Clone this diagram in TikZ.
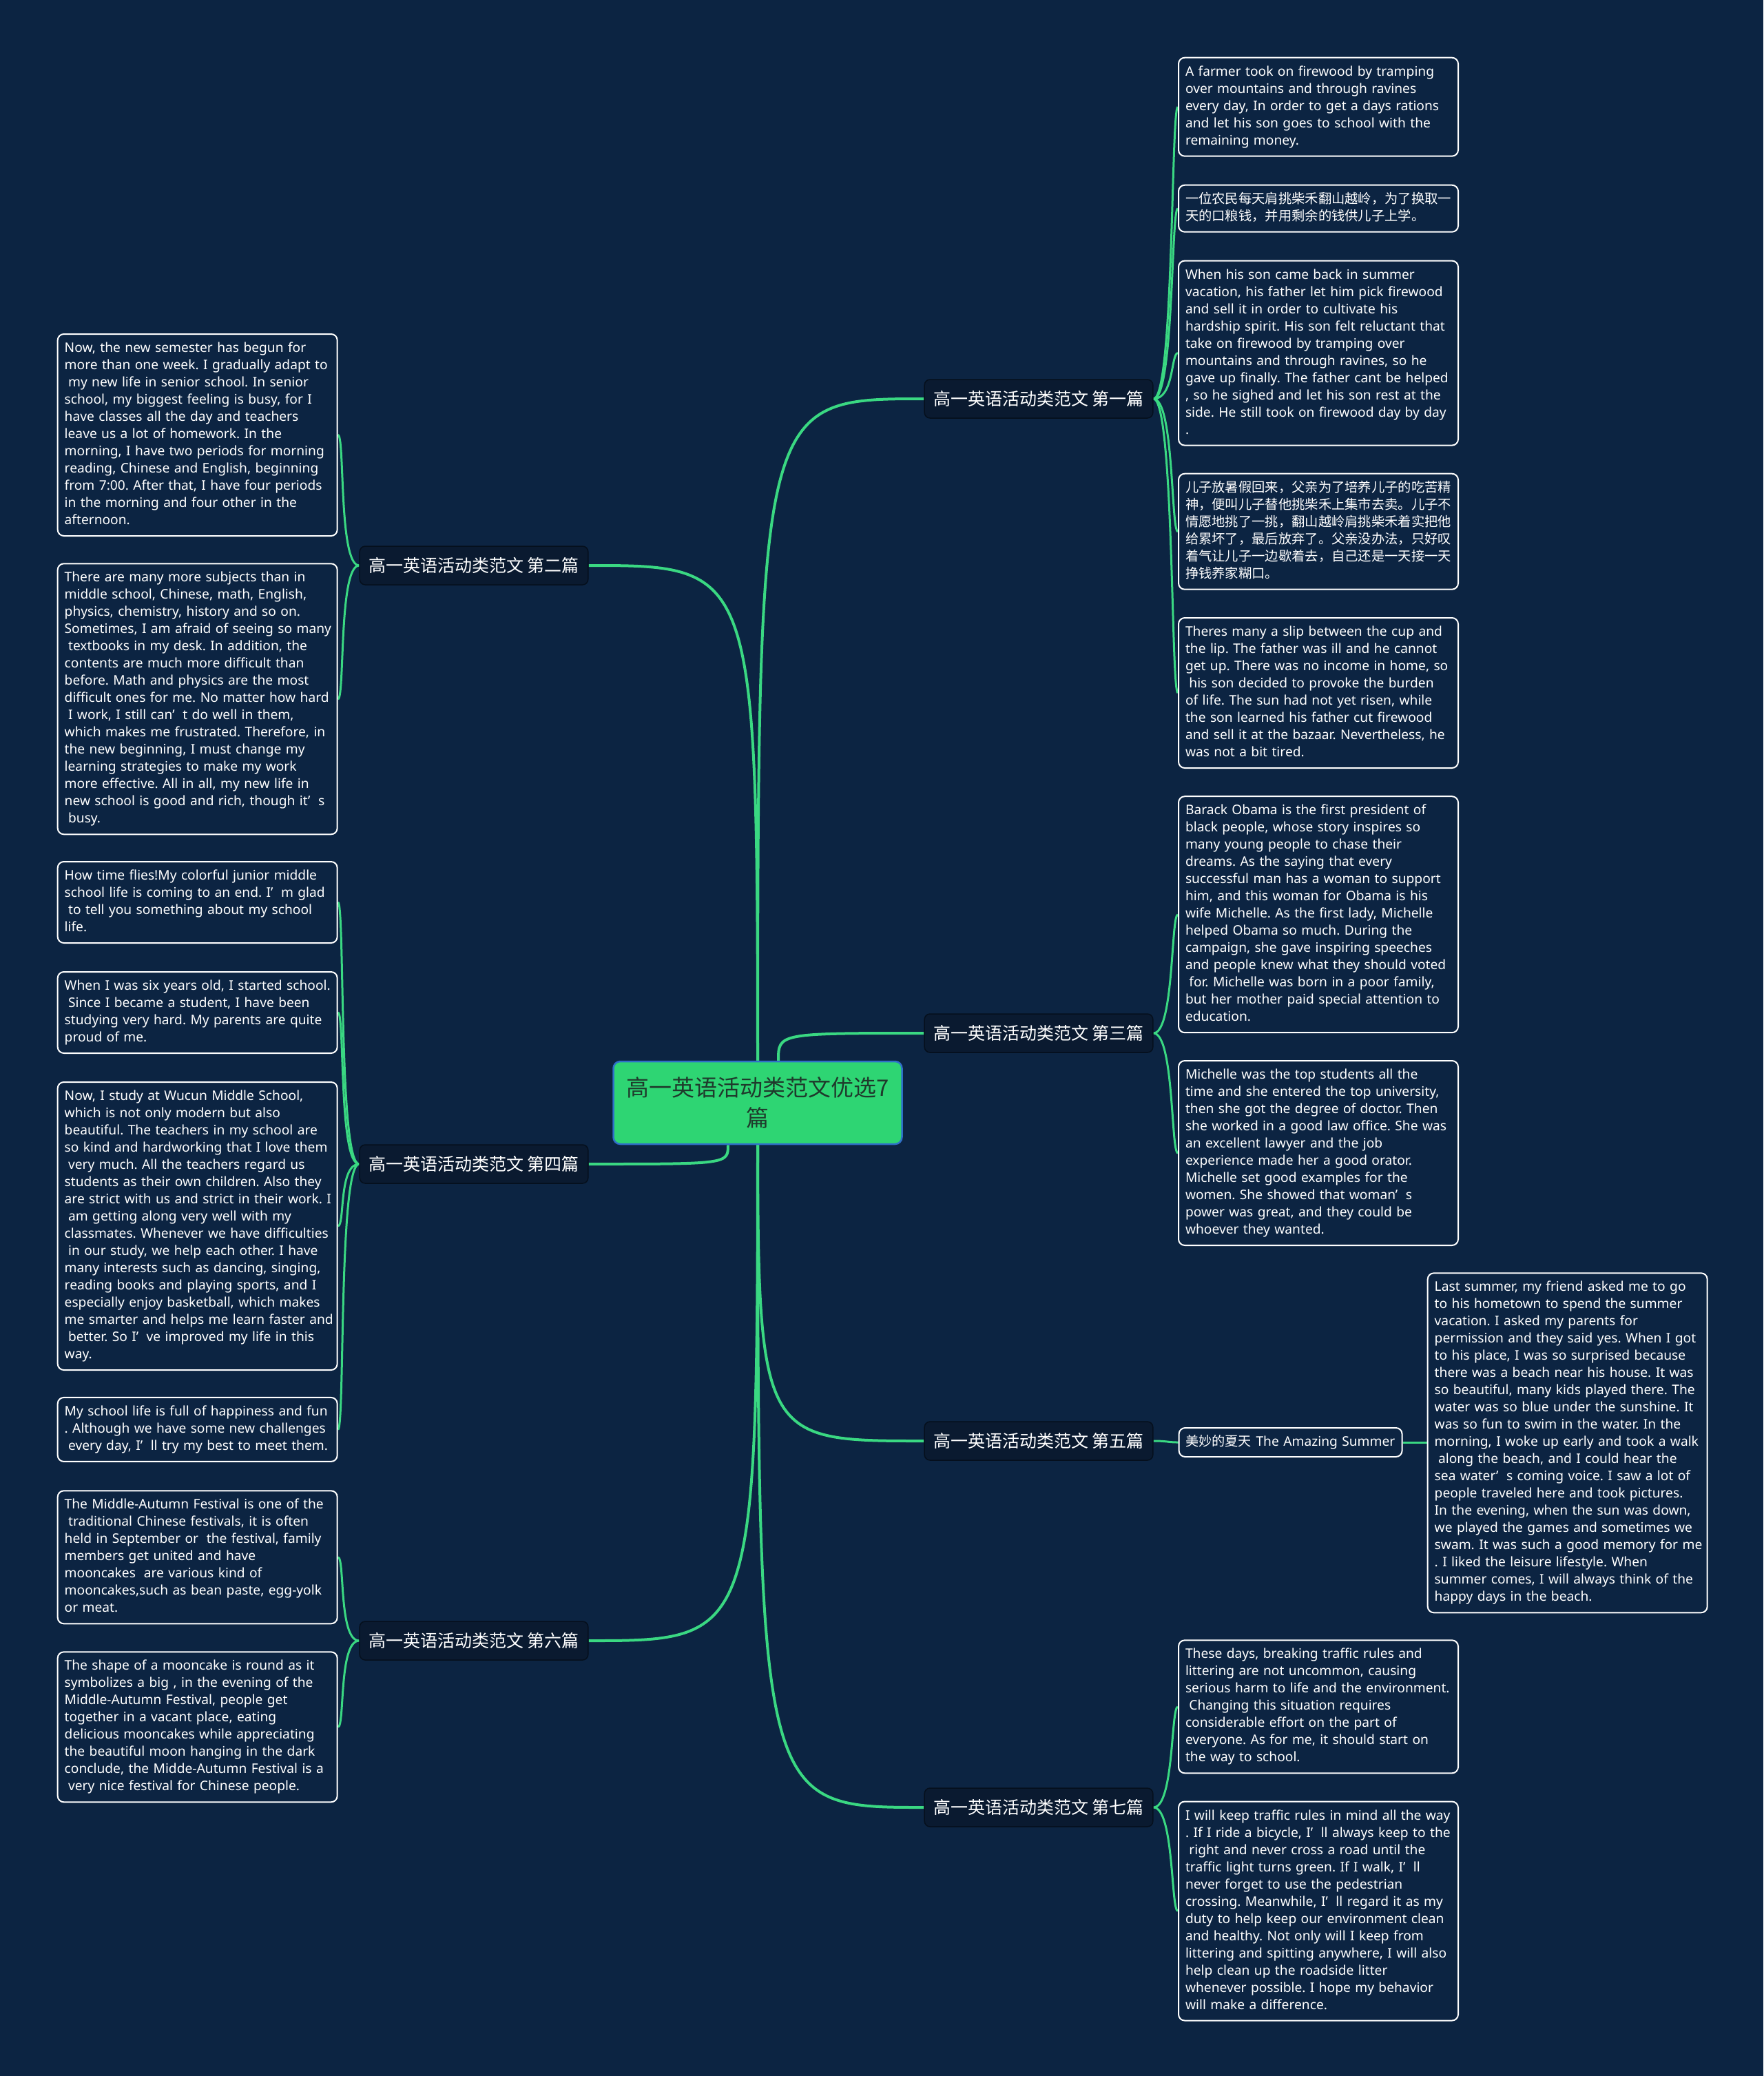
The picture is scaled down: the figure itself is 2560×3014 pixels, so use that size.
\documentclass[tikz,border=0pt]{standalone}
\usepackage{fontspec}
\setmainfont{Noto Sans}
\newfontfamily\cjk{Noto Sans CJK SC}
\usetikzlibrary{calc}
\definecolor{bgc}{HTML}{0C2442}
\definecolor{lnk}{HTML}{3AD882}
\definecolor{lblfill}{HTML}{0A1A30}
\definecolor{lbldraw}{HTML}{050F1C}
\definecolor{ctrfill}{HTML}{2ED573}
\definecolor{ctrdraw}{HTML}{2F6FC8}
\definecolor{ctrtext}{HTML}{1F3A2C}
\pgfdeclarelayer{bglayer}
\pgfdeclarelayer{edgelayer}
\pgfsetlayers{bglayer,edgelayer,main}
\newcommand\myind{\hspace*{0.28em}}
\newcommand\myq{’\hspace{0.6em}}
\newcommand\mylines[1]{\noindent\begin{tabular}{@{}l@{}}#1\end{tabular}}
\frenchspacing
\begin{document}
\begin{tikzpicture}[x=1pt,y=-1pt,
  txtbox/.style={draw=white, line width=2pt, rounded corners=9pt, fill=bgc, text=white,
    anchor=north west, inner xsep=10pt, inner ysep=0pt, text width=386pt,
    minimum width=406pt, font=\fontsize{19.2pt}{25pt}\selectfont\frenchspacing},
  cjkbox/.style={txtbox, font=\cjk\fontsize{19.3pt}{25pt}\selectfont},
  lbl/.style={fill=lblfill, draw=lbldraw, line width=1.5pt, rounded corners=8pt, text=white,
    inner xsep=13pt, inner ysep=0pt, minimum height=56pt,
    font=\cjk\fontsize{25pt}{30pt}\selectfont},
  ctr/.style={fill=ctrfill, draw=ctrdraw, line width=2.5pt, rounded corners=10pt, text=ctrtext,
    minimum width=419pt, minimum height=120pt, align=center,
    font=\cjk\fontsize{33pt}{44pt}\selectfont},
  mainlink/.style={draw=lnk, line width=4pt},
  link/.style={draw=lnk, line width=3pt}
]
\useasboundingbox (0,0) rectangle (2560,3014);
\begin{pgfonlayer}{bglayer}
\fill[bgc] (0,0) rectangle (2560,3014);
\end{pgfonlayer}

% center
\node[ctr] (c) at (1100,1601) {高一英语活动类范文优选7\\篇};

% branch labels
\node[lbl] (r1) at (1508,579) {高一英语活动类范文 第一篇};
\node[lbl] (r3) at (1508,1500) {高一英语活动类范文 第三篇};
\node[lbl] (r5) at (1508,2092) {高一英语活动类范文 第五篇};
\node[lbl] (r7) at (1508,2624) {高一英语活动类范文 第七篇};
\node[lbl] (l2) at (688,821) {高一英语活动类范文 第二篇};
\node[lbl] (l4) at (688,1690) {高一英语活动类范文 第四篇};
\node[lbl] (l6) at (688,2382) {高一英语活动类范文 第六篇};

% right boxes
\node[txtbox, minimum height=143pt] (r1a) at (1710,82.7) {\mylines{A farmer took on firewood by tramping\\
over mountains and through ravines\\
every day, In order to get a days rations\\
and let his son goes to school with the\\
remaining money.}};
\node[cjkbox, minimum height=68pt] (r1b) at (1710,267.7) {\mylines{一位农民每天肩挑柴禾翻山越岭，为了换取一\\
天的口粮钱，并用剩余的钱供儿子上学。}};
\node[txtbox, minimum height=268pt] (r1c) at (1710,377.6) {\mylines{When his son came back in summer\\
vacation, his father let him pick firewood\\
and sell it in order to cultivate his\\
hardship spirit. His son felt reluctant that\\
take on firewood by tramping over\\
mountains and through ravines, so he\\
gave up finally. The father cant be helped\\
, so he sighed and let his son rest at the\\
side. He still took on firewood day by day\\
.}};
\node[cjkbox, minimum height=168pt] (r1d) at (1710,686.7) {\mylines{儿子放暑假回来，父亲为了培养儿子的吃苦精\\
神，便叫儿子替他挑柴禾上集市去卖。儿子不\\
情愿地挑了一挑，翻山越岭肩挑柴禾着实把他\\
给累坏了，最后放弃了。父亲没办法，只好叹\\
着气让儿子一边歇着去，自己还是一天接一天\\
挣钱养家糊口。}};
\node[txtbox, minimum height=218pt] (r1e) at (1710,896) {\mylines{Theres many a slip between the cup and\\
the lip. The father was ill and he cannot\\
get up. There was no income in home, so\\
\myind his son decided to provoke the burden\\
of life. The sun had not yet risen, while\\
the son learned his father cut firewood\\
and sell it at the bazaar. Nevertheless, he\\
was not a bit tired.}};
\node[txtbox, minimum height=343pt] (r3a) at (1710,1155.2) {\mylines{Barack Obama is the first president of\\
black people, whose story inspires so\\
many young people to chase their\\
dreams. As the saying that every\\
successful man has a woman to support\\
him, and this woman for Obama is his\\
wife Michelle. As the first lady, Michelle\\
helped Obama so much. During the\\
campaign, she gave inspiring speeches\\
and people knew what they should voted\\
\myind for. Michelle was born in a poor family,\\
but her mother paid special attention to\\
education.}};
\node[txtbox, minimum height=268pt] (r3b) at (1710,1539) {\mylines{Michelle was the top students all the\\
time and she entered the top university,\\
then she got the degree of doctor. Then\\
she worked in a good law office. She was\\
an excellent lawyer and the job\\
experience made her a good orator.\\
Michelle set good examples for the\\
women. She showed that woman\myq s\\
power was great, and they could be\\
whoever they wanted.}};
\node[txtbox, text width=305pt, minimum width=324pt, inner xsep=9pt, minimum height=42pt] (r5a) at (1710.6,2072) {\mylines{{\cjk 美妙的夏天} The Amazing Summer}};
\node[txtbox, minimum height=493pt] (r5b) at (2071.7,1847.3) {\mylines{Last summer, my friend asked me to go\\
to his hometown to spend the summer\\
vacation. I asked my parents for\\
permission and they said yes. When I got\\
to his place, I was so surprised because\\
there was a beach near his house. It was\\
so beautiful, many kids played there. The\\
water was so blue under the sunshine. It\\
was so fun to swim in the water. In the\\
morning, I woke up early and took a walk\\
\myind along the beach, and I could hear the\\
sea water\myq s coming voice. I saw a lot of\\
people traveled here and took pictures.\\
In the evening, when the sun was down,\\
we played the games and sometimes we\\
swam. It was such a good memory for me\\
. I liked the leisure lifestyle. When\\
summer comes, I will always think of the\\
happy days in the beach.}};
\node[txtbox, minimum height=193pt] (r7a) at (1710,2380.3) {\mylines{These days, breaking traffic rules and\\
littering are not uncommon, causing\\
serious harm to life and the environment.\\
\myind Changing this situation requires\\
considerable effort on the part of\\
everyone. As for me, it should start on\\
the way to school.}};
\node[txtbox, minimum height=318pt] (r7b) at (1710,2614.5) {\mylines{I will keep traffic rules in mind all the way\\
. If I ride a bicycle, I\myq ll always keep to the\\
\myind right and never cross a road until the\\
traffic light turns green. If I walk, I\myq ll\\
never forget to use the pedestrian\\
crossing. Meanwhile, I\myq ll regard it as my\\
duty to help keep our environment clean\\
and healthy. Not only will I keep from\\
littering and spitting anywhere, I will also\\
help clean up the roadside litter\\
whenever possible. I hope my behavior\\
will make a difference.}};

% left boxes
\node[txtbox, minimum height=293pt] (l2a) at (82.7,484) {\mylines{Now, the new semester has begun for\\
more than one week. I gradually adapt to\\
\myind my new life in senior school. In senior\\
school, my biggest feeling is busy, for I\\
have classes all the day and teachers\\
leave us a lot of homework. In the\\
morning, I have two periods for morning\\
reading, Chinese and English, beginning\\
from 7:00. After that, I have four periods\\
in the morning and four other in the\\
afternoon.}};
\node[txtbox, minimum height=393pt] (l2b) at (82.7,817.3) {\mylines{There are many more subjects than in\\
middle school, Chinese, math, English,\\
physics, chemistry, history and so on.\\
Sometimes, I am afraid of seeing so many\\
\myind textbooks in my desk. In addition, the\\
contents are much more difficult than\\
before. Math and physics are the most\\
difficult ones for me. No matter how hard\\
\myind I work, I still can\myq t do well in them,\\
which makes me frustrated. Therefore, in\\
the new beginning, I must change my\\
learning strategies to make my work\\
more effective. All in all, my new life in\\
new school is good and rich, though it\myq s\\
\myind busy.}};
\node[txtbox, minimum height=118pt] (l4a) at (82.7,1250) {\mylines{How time flies!My colorful junior middle\\
school life is coming to an end. I\myq m glad\\
\myind to tell you something about my school\\
life.}};
\node[txtbox, minimum height=118pt] (l4b) at (82.7,1410) {\mylines{When I was six years old, I started school.\\
\myind Since I became a student, I have been\\
studying very hard. My parents are quite\\
proud of me.}};
\node[txtbox, minimum height=418pt] (l4c) at (82.7,1570) {\mylines{Now, I study at Wucun Middle School,\\
which is not only modern but also\\
beautiful. The teachers in my school are\\
so kind and hardworking that I love them\\
\myind very much. All the teachers regard us\\
students as their own children. Also they\\
are strict with us and strict in their work. I\\
\myind am getting along very well with my\\
classmates. Whenever we have difficulties\\
\myind in our study, we help each other. I have\\
many interests such as dancing, singing,\\
reading books and playing sports, and I\\
especially enjoy basketball, which makes\\
me smarter and helps me learn faster and\\
\myind better. So I\myq ve improved my life in this\\
way.}};
\node[txtbox, minimum height=93pt] (l4d) at (82.7,2027.9) {\mylines{My school life is full of happiness and fun\\
. Although we have some new challenges\\
\myind every day, I\myq ll try my best to meet them.}};
\node[txtbox, minimum height=193pt] (l6a) at (82.7,2163.3) {\mylines{The Middle-Autumn Festival is one of the\\
\myind traditional Chinese festivals, it is often\\
held in September or \myind the festival, family\\
members get united and have\\
mooncakes \myind are various kind of\\
mooncakes,such as bean paste, egg-yolk\\
or meat.}};
\node[txtbox, minimum height=218pt] (l6b) at (82.7,2397.3) {\mylines{The shape of a mooncake is round as it\\
symbolizes a big , in the evening of the\\
Middle-Autumn Festival, people get\\
together in a vacant place, eating\\
delicious mooncakes while appreciating\\
the beautiful moon hanging in the dark\\
conclude, the Midde-Autumn Festival is a\\
\myind very nice festival for Chinese people.}};

% connectors
\begin{pgfonlayer}{edgelayer}
\draw[mainlink] (c.center) .. controls (c.center |- r1.west) and (c.center |- r1.west) .. (r1.west);
\draw[mainlink] ([xshift=30pt]c.north) .. controls ([xshift=30pt]c.north |- r3.west) and ([xshift=30pt]c.north |- r3.west) .. (r3.west);
\draw[mainlink] (c.center) .. controls (c.center |- r5.west) and (c.center |- r5.west) .. (r5.west);
\draw[mainlink] (c.center) .. controls (c.center |- r7.west) and (c.center |- r7.west) .. (r7.west);
\draw[mainlink] (c.center) .. controls (c.center |- l2.east) and (c.center |- l2.east) .. (l2.east);
\draw[mainlink] ([xshift=-43pt]c.south) .. controls ([xshift=-43pt]c.south |- l4.east) and ([xshift=-43pt]c.south |- l4.east) .. (l4.east);
\draw[mainlink] (c.center) .. controls (c.center |- l6.east) and (c.center |- l6.east) .. (l6.east);

\foreach \b in {r1a,r1b,r1c,r1d,r1e}
  \draw[link] (r1.east) .. controls +(30,0) and +(-10,0) .. (\b.west);
\foreach \b in {r3a,r3b}
  \draw[link] (r3.east) .. controls +(30,0) and +(-10,0) .. (\b.west);
\draw[link] (r5.east) .. controls +(20,0) and +(-15,0) .. (r5a.west);
\draw[link] (r5a.east) -- (r5b.west |- r5a.east);
\foreach \b in {r7a,r7b}
  \draw[link] (r7.east) .. controls +(30,0) and +(-10,0) .. (\b.west);
\foreach \b in {l2a,l2b}
  \draw[link] (l2.west) .. controls +(-30,0) and +(10,0) .. (\b.east);
\foreach \b in {l4a,l4b,l4c,l4d}
  \draw[link] (l4.west) .. controls +(-30,0) and +(10,0) .. (\b.east);
\foreach \b in {l6a,l6b}
  \draw[link] (l6.west) .. controls +(-30,0) and +(10,0) .. (\b.east);
\end{pgfonlayer}
\end{tikzpicture}
\end{document}
